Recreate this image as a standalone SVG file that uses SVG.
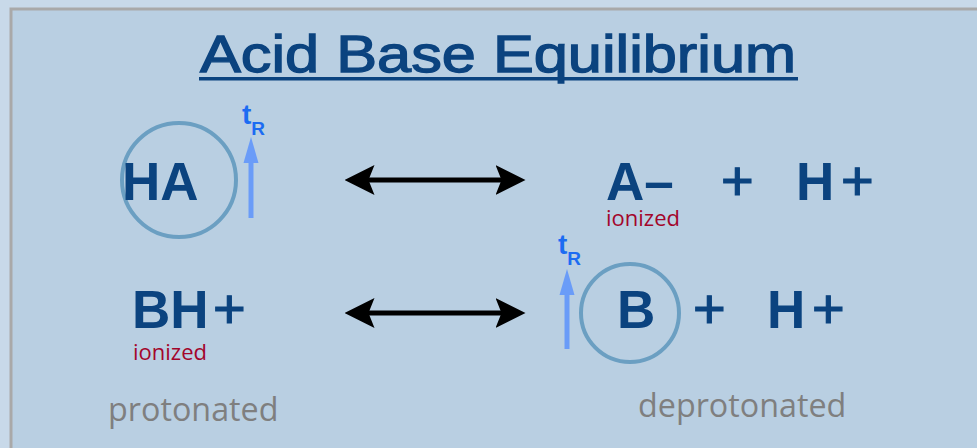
<svg xmlns="http://www.w3.org/2000/svg" width="977" height="448" viewBox="0 0 977 448">
<defs>
<marker id="ah" markerWidth="6" markerHeight="6" refX="4.5" refY="3" orient="auto-start-reverse" markerUnits="strokeWidth" viewBox="0 0 6 6"><path d="M0,0 L6,3 L0,6 L1.2,3 Z" fill="#000"/></marker>
</defs>
<style>
.chem{font-family:"Liberation Sans",Arial,sans-serif;font-weight:bold;font-size:53px;fill:#0b437f}
.pl{font-weight:normal;font-size:56px;stroke:#0b437f;stroke-width:1.2}
.ion{font-family:"Open Sans","Noto Sans",sans-serif;font-size:22px;fill:#a3052b}
.lbl{font-family:"Open Sans","Noto Sans",sans-serif;font-size:32.3px;fill:#7f7f7f}
.tr{font-family:"Liberation Sans",Arial,sans-serif;font-weight:bold;fill:#1c6cf2}
.ring{fill:none;stroke:#6b9fc2;stroke-width:4}
.up{stroke:#6a9cf8;stroke-width:5}
.conn{stroke:#000;stroke-width:5;fill:none}
</style>
<rect x="0" y="0" width="977" height="448" fill="#c8d9e9"/>
<rect x="11" y="9" width="972" height="445" fill="#b9cfe2" stroke="#a9a9a9" stroke-width="3"/>
<g id="title">
<text x="498" y="72" text-anchor="middle" font-family="'Liberation Sans',Arial,sans-serif" font-size="52" fill="#0b437f" stroke="#0b437f" stroke-width="1.3" textLength="596" lengthAdjust="spacingAndGlyphs">Acid Base Equilibrium</text>
<rect x="199" y="77" width="599" height="3.5" fill="#0b437f"/>
</g>
<g id="connectors">
<line class="conn" x1="352" y1="180" x2="518" y2="180" marker-start="url(#ah)" marker-end="url(#ah)"/>
<line class="conn" x1="352" y1="313" x2="518" y2="313" marker-start="url(#ah)" marker-end="url(#ah)"/>
</g>
<g id="HA">
<circle class="ring" cx="179" cy="180" r="57"/>
<text class="chem" x="122" y="200">HA</text>
</g>
<g id="tR1">
<line class="up" x1="251" y1="218" x2="251" y2="158"/>
<path d="M243.5,163 L251,137 L258.5,163 Z" fill="#6a9cf8"/>
<text class="tr" x="242" y="124" font-size="28">t<tspan font-size="19" dy="11">R</tspan></text>
</g>
<g id="products1">
<text class="chem" x="606" y="200">A–</text>
<text class="chem pl" x="721" y="200">+</text>
<text class="chem" x="796" y="200">H<tspan class="pl" x="841">+</tspan></text>
<text class="ion" x="606" y="226">ionized</text>
</g>
<g id="BH">
<text class="chem" x="132" y="328">BH<tspan class="pl" x="213">+</tspan></text>
<text class="ion" x="133" y="360">ionized</text>
</g>
<g id="tR2">
<line class="up" x1="567" y1="349" x2="567" y2="290"/>
<path d="M559.5,295 L567,269 L574.5,295 Z" fill="#6a9cf8"/>
<text class="tr" x="558" y="254" font-size="28">t<tspan font-size="19" dy="11">R</tspan></text>
</g>
<g id="B">
<circle class="ring" cx="630" cy="313" r="49"/>
<text class="chem" x="617" y="328">B</text>
</g>
<g id="products2">
<text class="chem pl" x="693" y="328">+</text>
<text class="chem" x="767" y="328">H<tspan class="pl" x="812">+</tspan></text>
</g>
<g id="labels">
<text class="lbl" x="108" y="421">protonated</text>
<text class="lbl" x="638" y="417">deprotonated</text>
</g>
</svg>
